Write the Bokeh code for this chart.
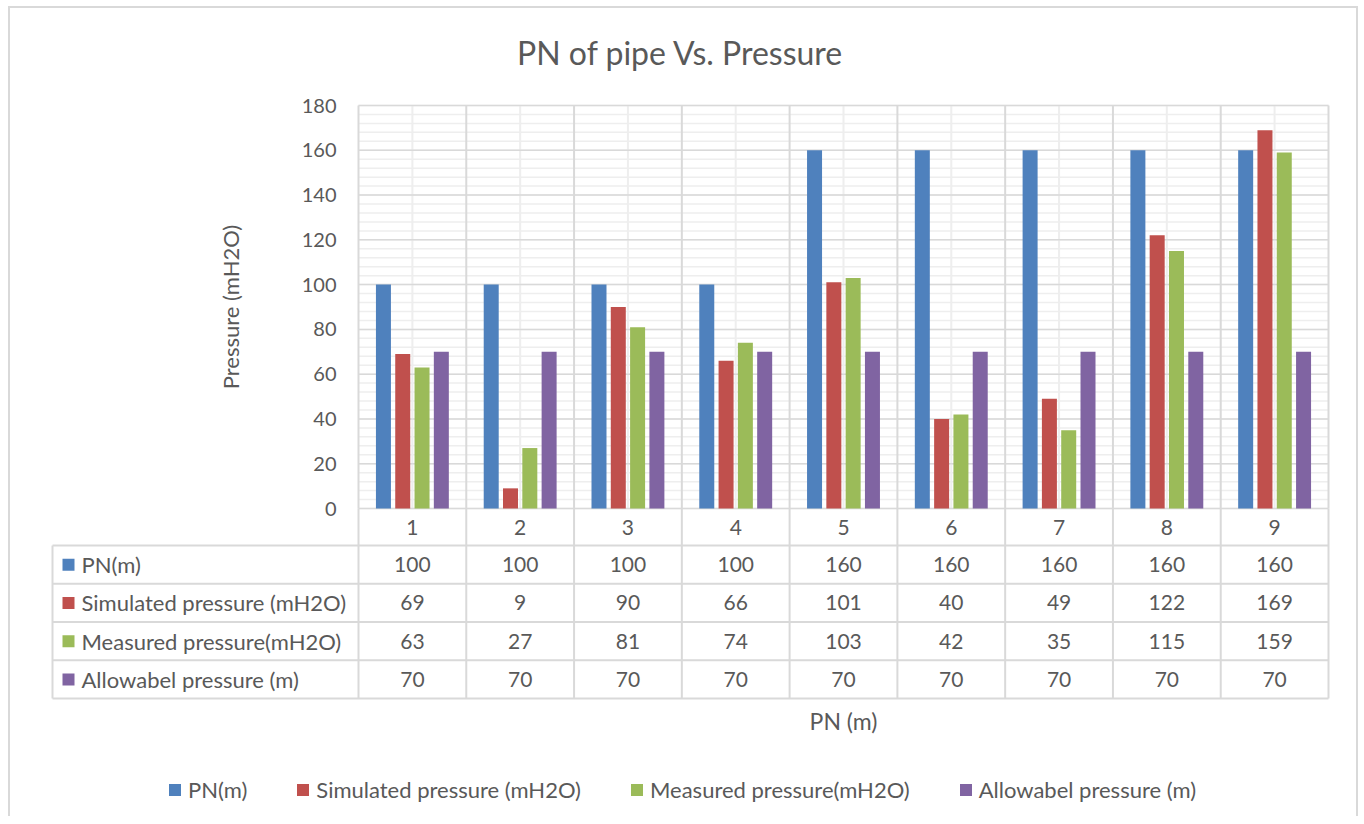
import math
from bokeh.plotting import figure
from bokeh.models import (Range1d, Legend, LegendItem, ColumnDataSource)
from bokeh.layouts import column
from bokeh.embed import file_html
from bokeh.resources import INLINE
from bokeh.core.properties import value

# ---------------- data ----------------
categories = ["1", "2", "3", "4", "5", "6", "7", "8", "9"]
pn = [100, 100, 100, 100, 160, 160, 160, 160, 160]
simulated = [69, 9, 90, 66, 101, 40, 49, 122, 169]
measured = [63, 27, 81, 74, 103, 42, 35, 115, 159]
allowable = [70, 70, 70, 70, 70, 70, 70, 70, 70]
series_names = ["PN(m)", "Simulated pressure (mH2O)",
                "Measured pressure(mH2O)", "Allowabel pressure (m)"]
series_values = [pn, simulated, measured, allowable]
colors = ["#4F81BD", "#C0504D", "#9BBB59", "#8064A2"]
y_ticks = list(range(0, 181, 20))
y_minor = list(range(0, 181, 4))
title_text = "PN of pipe Vs. Pressure"
y_title = "Pressure (mH2O)"
x_title = "PN (m)"

# ---------------- layout constants (page pixels) ----------------
FONT = "Lato"
TXT = "#595959"
GRID = "#D9D9D9"
MINOR = "#EEEEEE"
W, H = 1346, 808
LEFT, TOP = 10, 8          # page position of the canvas
FRAME_L, FRAME_R = 358, 1328
FRAME_T, FRAME_B = 105, 508
ROW_TOP, ROW_H = 545, 38.25
N = len(categories)
YMAX = 180
cat_px = (FRAME_R - FRAME_L) / N
s = (FRAME_B - FRAME_T) / YMAX
xs = list(range(1, N + 1))


def px_x(px):   # page x -> category units
    return 0.5 + (px - FRAME_L) / cat_px


def px_y(py):   # page y -> pressure units
    return (FRAME_B - py) / s


def px_row(py):  # page y -> table row units
    return (py - ROW_TOP) / ROW_H


p = figure(width=W, height=H, output_backend="svg", toolbar_location=None,
           x_range=Range1d(px_x(LEFT), px_x(LEFT + W)),
           y_range=Range1d(px_y(TOP + H), px_y(TOP)),
           x_axis_location=None, y_axis_location=None, min_border=0)
p.extra_y_ranges = {"rows": Range1d(px_row(TOP + H), px_row(TOP))}
p.outline_line_color = None
p.grid.visible = False
p.background_fill_color = "white"
p.border_fill_color = "white"

# ---------------- title ----------------
p.text(x=[px_x(680)], y=[px_y(52)], text=[title_text],
       text_align="center", text_baseline="middle", text_font=value(FONT),
       text_font_size="32px", text_color=TXT)

# ---------------- gridlines ----------------
lo, hi = 0.5, N + 0.5
p.segment(x0=[lo] * len(y_minor), x1=[hi] * len(y_minor), y0=y_minor,
          y1=y_minor, line_color=MINOR, line_width=1.5)
p.segment(x0=xs, x1=xs, y0=[0] * N, y1=[YMAX] * N, line_color=MINOR,
          line_width=2)
p.segment(x0=[lo] * len(y_ticks), x1=[hi] * len(y_ticks), y0=y_ticks,
          y1=y_ticks, line_color=GRID, line_width=1.5)
bounds = [i + 0.5 for i in range(N + 1)]
p.segment(x0=bounds, x1=bounds, y0=[0] * len(bounds),
          y1=[YMAX] * len(bounds), line_color=GRID, line_width=2)

# ---------------- y axis labels ----------------
p.text(x=[px_x(FRAME_L - 22)] * len(y_ticks), y=y_ticks,
       text=[str(t) for t in y_ticks], text_align="right",
       text_baseline="middle", text_font=value(FONT), text_font_size="20px",
       text_color=TXT)
p.text(x=[px_x(230)], y=[YMAX / 2], text=[y_title], angle=math.pi / 2,
       text_align="center", text_baseline="middle", text_font=value(FONT),
       text_font_size="22px", text_color=TXT)

# ---------------- bars ----------------
bar_w = 15 / cat_px
pitch = 19.3 / cat_px
bar_renderers = []
for j, (vals, c) in enumerate(zip(series_values, colors)):
    off = (j - 1.5) * pitch
    src = ColumnDataSource(dict(x=[x + off for x in xs], top=vals))
    r = p.vbar(x="x", top="top", width=bar_w, bottom=0, source=src,
               fill_color=c, line_color=None)
    bar_renderers.append(r)

# ---------------- data table ----------------
cat_row_top = px_row(FRAME_B)
left_edge = px_x(52)
hy = [0, 1, 2, 3, 4]
p.segment(x0=[left_edge] * len(hy), x1=[hi] * len(hy), y0=hy, y1=hy,
          line_color=GRID, line_width=2, y_range_name="rows")
p.segment(x0=bounds, x1=bounds, y0=[cat_row_top] * len(bounds),
          y1=[4] * len(bounds), line_color=GRID, line_width=2,
          y_range_name="rows")
p.segment(x0=[left_edge], x1=[left_edge], y0=[0], y1=[4],
          line_color=GRID, line_width=2, y_range_name="rows")

p.text(x=xs, y=[cat_row_top / 2] * N, text=categories, text_align="center",
       text_baseline="middle", text_font=value(FONT), text_font_size="21px",
       text_color=TXT, y_range_name="rows")

for j, (name, vals, c) in enumerate(zip(series_names, series_values, colors)):
    ry = j + 0.5
    p.text(x=xs, y=[ry] * N, text=[str(v) for v in vals], text_align="center",
           text_baseline="middle", text_font=value(FONT),
           text_font_size="21px", text_color=TXT, y_range_name="rows")
    p.scatter(x=[px_x(68)], y=[ry], marker="square", size=12,
              fill_color=c, line_color=None, y_range_name="rows")
    p.text(x=[px_x(81)], y=[ry], text=[name], text_align="left",
           text_baseline="middle", text_font=value(FONT),
           text_font_size="22px", text_color=TXT, y_range_name="rows")

# x axis title
p.text(x=[(N + 1) / 2], y=[px_row(720)], text=[x_title],
       text_align="center", text_baseline="middle", text_font=value(FONT),
       text_font_size="23px", text_color=TXT, y_range_name="rows")

# ---------------- legend ----------------
legend = Legend(items=[LegendItem(label=n, renderers=[r])
                       for n, r in zip(series_names, bar_renderers)],
                orientation="horizontal",
                location=(167 - LEFT, TOP + H - 790 - 13), spacing=48,
                label_standoff=6, glyph_width=15, glyph_height=15,
                border_line_color=None, background_fill_alpha=0,
                label_text_font=FONT, label_text_font_size="22px",
                label_text_color=TXT, margin=0, padding=0)
p.add_layout(legend)

layout = column(p, styles={"border": "2px solid #D9D9D9",
                           "border-bottom": "none",
                           "background-color": "white",
                           "margin-left": "8px", "margin-top": "6px"})
open("out.html", "w").write(file_html(layout, INLINE))
